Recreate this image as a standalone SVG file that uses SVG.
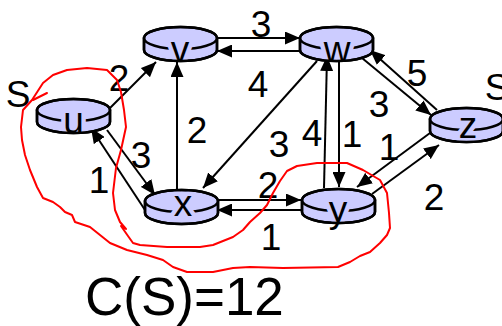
<svg xmlns="http://www.w3.org/2000/svg" width="502" height="326" viewBox="0 0 502 326">
<style>
.e{stroke:#000;stroke-width:2;fill:none}
.lbl{font-family:"Liberation Sans",Arial,sans-serif;font-size:37px;fill:#000;text-anchor:middle}
.nl{font-family:"Liberation Sans",Arial,sans-serif;font-size:37px;fill:#000;text-anchor:middle}
.halo{font-family:"Liberation Sans",Arial,sans-serif;font-size:37px;fill:#ccccff;text-anchor:middle;stroke:#ccccff;stroke-width:9;stroke-linejoin:round}
.red{stroke:#ff0000;stroke-width:2;fill:none;stroke-linejoin:round;stroke-linecap:round}
</style>
<defs>
<marker id="a" viewBox="0 0 15 13" refX="15" refY="6.5" markerWidth="15" markerHeight="13" markerUnits="userSpaceOnUse" orient="auto">
<path d="M0,0 L15,6.5 L0,13 z" fill="#000"/>
</marker>
<g id="cyl">
<path d="M0,12 L0,24 A36.5,11 0 0 0 73,24 L73,12 Z" fill="#ccccff" stroke="#000" stroke-width="2.5"/>
<ellipse cx="36.5" cy="12" rx="36.5" ry="11" fill="#ccccff" stroke="#000" stroke-width="2.5"/>
</g>
<path id="rim" d="M0,12 L0,24 A36.5,11 0 0 0 73,24 L73,12 M0,12 A36.5,11 0 0 1 73,12" fill="none" stroke="#000" stroke-width="2.5"/>
<path id="cylclip" d="M0,12 A36.5,11 0 0 1 73,12 L73,24 A36.5,11 0 0 1 0,24 Z"/>
<clipPath id="cu"><use href="#cylclip" x="37" y="98"/></clipPath>
<clipPath id="cv"><use href="#cylclip" x="144" y="26"/></clipPath>
<clipPath id="cw"><use href="#cylclip" x="300" y="26"/></clipPath>
<clipPath id="cx"><use href="#cylclip" x="145" y="189"/></clipPath>
<clipPath id="cy"><use href="#cylclip" x="302" y="188"/></clipPath>
<clipPath id="cz"><use href="#cylclip" x="430" y="107"/></clipPath>
</defs>
<rect width="502" height="326" fill="#fff"/>
<g id="connectors">
<line class="e" x1="110" y1="108" x2="156" y2="62" marker-end="url(#a)"/>
<line class="e" x1="217" y1="38" x2="300" y2="38" marker-end="url(#a)"/>
<line class="e" x1="300" y1="51" x2="217" y2="51" marker-end="url(#a)"/>
<line class="e" x1="177" y1="189" x2="177" y2="62" marker-end="url(#a)"/>
<line class="e" x1="317" y1="61" x2="203" y2="188" marker-end="url(#a)"/>
<line class="e" x1="324" y1="188" x2="327" y2="56" marker-end="url(#a)"/>
<line class="e" x1="339" y1="61" x2="339" y2="187" marker-end="url(#a)"/>
<line class="e" x1="437" y1="110" x2="370" y2="50" marker-end="url(#a)"/>
<line class="e" x1="362" y1="58" x2="431" y2="115" marker-end="url(#a)"/>
<line class="e" x1="430" y1="133" x2="357" y2="187" marker-end="url(#a)"/>
<line class="e" x1="372" y1="194" x2="439" y2="145" marker-end="url(#a)"/>
<line class="e" x1="218" y1="200" x2="301" y2="200" marker-end="url(#a)"/>
<line class="e" x1="302" y1="210" x2="217" y2="210" marker-end="url(#a)"/>
<line class="e" x1="145" y1="210" x2="91" y2="128" marker-end="url(#a)"/>
<line class="e" x1="107" y1="130" x2="155" y2="195" marker-end="url(#a)"/>
</g>
<g id="node-u"><use href="#cyl" x="37" y="98"/><text class="halo" clip-path="url(#cu)" x="73.5" y="133">u</text><use href="#rim" x="37" y="98"/><text class="nl" x="73.5" y="133">u</text></g>
<g id="node-v"><use href="#cyl" x="144" y="26"/><text class="halo" clip-path="url(#cv)" x="180" y="62">v</text><use href="#rim" x="144" y="26"/><text class="nl" x="180" y="62">v</text></g>
<g id="node-w"><use href="#cyl" x="300" y="26"/><text class="halo" clip-path="url(#cw)" x="337" y="62">w</text><use href="#rim" x="300" y="26"/><text class="nl" x="337" y="62">w</text></g>
<g id="node-x"><use href="#cyl" x="145" y="189"/><text class="halo" clip-path="url(#cx)" x="183" y="216">x</text><use href="#rim" x="145" y="189"/><text class="nl" x="183" y="216">x</text></g>
<g id="node-y"><use href="#cyl" x="302" y="188"/><text class="halo" clip-path="url(#cy)" x="338" y="222">y</text><use href="#rim" x="302" y="188"/><text class="nl" x="338" y="222">y</text></g>
<g id="node-z"><use href="#cyl" x="430" y="107"/><text class="halo" clip-path="url(#cz)" x="468" y="138">z</text><use href="#rim" x="430" y="107"/><text class="nl" x="468" y="138">z</text></g>
<g id="labels">
<text class="lbl" x="119" y="91">2</text>
<text class="lbl" x="261" y="37">3</text>
<text class="lbl" x="197" y="143">2</text>
<text class="lbl" x="258" y="97">4</text>
<text class="lbl" x="279" y="157">3</text>
<text class="lbl" x="312" y="146">4</text>
<text class="lbl" x="352" y="147">1</text>
<text class="lbl" x="417" y="86">5</text>
<text class="lbl" x="379" y="117">3</text>
<text class="lbl" x="389" y="160">1</text>
<text class="lbl" x="434" y="210">2</text>
<text class="lbl" x="268" y="198">2</text>
<text class="lbl" x="271" y="250">1</text>
<text class="lbl" x="141" y="168">3</text>
<text class="lbl" x="99" y="193">1</text>
<text class="lbl" x="18" y="107">S</text>
<text class="lbl" x="497" y="100" text-anchor="start">S</text>
<text x="85" y="315" font-family="'Liberation Sans',Arial,sans-serif" font-size="53" fill="#000">C(S)=12</text>
</g>
<g id="cut">
<path class="red" d="M47,93 L33,100"/>
<path class="red" d="M32,100 L43,83 L53,75 L67,70 L87,68 L107,70 L117,80 L121,92 L124,110 L126,127 L121,150 L116,168 L113,193 L115,210 L120,222 L126,229 L121,226 L128,236 L133,243 L140,245 L167,247 L200,247 L213,245 L233,237 L243,230 L250,222 L260,213 L267,205 L273,193 L280,181 L287,171 L297,166 L317,163 L347,163 L363,170 L380,180 L387,193 L389,213 L390,228 L387,235 L380,243 L370,252 L360,256 L350,262 L338,267 L283,268 L250,267 L233,268 L213,272 L187,272 L173,267 L163,260 L147,255 L127,250 L110,243 L100,235 L90,227 L75,222 L72,215 L65,212 L60,207 L53,202 L43,198 L37,187 L30,170 L25,155 L22,140 L21,127 L23,110 L32,100"/>
</g>
</svg>
